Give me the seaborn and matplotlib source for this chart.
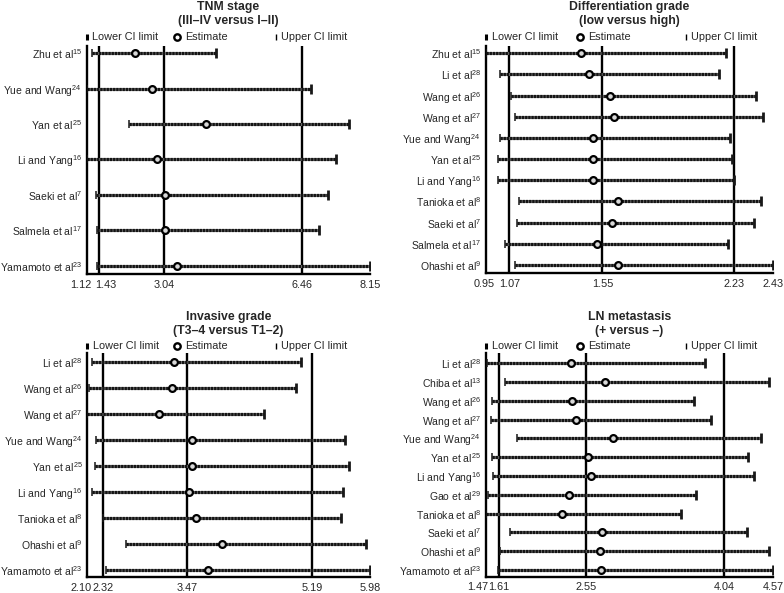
import numpy as np
import pandas as pd
import seaborn as sns
import matplotlib.pyplot as plt
import matplotlib.transforms as mtransforms

# ---- data ----
tnm_studies = ["Zhu et al$^{15}$", "Yue and Wang$^{24}$", "Yan et al$^{25}$", "Li and Yang$^{16}$",
               "Saeki et al$^{7}$", "Salmela et al$^{17}$", "Yamamoto et al$^{23}$"]
tnm_est = [2.31, 2.74, 4.08, 2.87, 3.06, 3.07, 3.35]
tnm_low = [1.24, 1.12, 2.17, 1.12, 1.34, 1.38, 1.38]
tnm_up = [4.32, 6.68, 7.64, 7.30, 7.11, 6.88, 8.15]
tnm_ticks = [1.12, 1.43, 3.04, 6.46, 8.15]

diff_studies = ["Zhu et al$^{15}$", "Li et al$^{28}$", "Wang et al$^{26}$", "Wang et al$^{27}$",
                "Yue and Wang$^{24}$", "Yan et al$^{25}$", "Li and Yang$^{16}$", "Tanioka et al$^{8}$",
                "Saeki et al$^{7}$", "Salmela et al$^{17}$", "Ohashi et al$^{9}$"]
diff_est = [1.44, 1.48, 1.59, 1.61, 1.50, 1.50, 1.50, 1.63, 1.60, 1.52, 1.63]
diff_low = [0.95, 1.02, 1.08, 1.10, 1.02, 1.01, 1.01, 1.12, 1.11, 1.05, 1.10]
diff_up = [2.19, 2.15, 2.34, 2.38, 2.21, 2.22, 2.23, 2.37, 2.33, 2.20, 2.43]
diff_ticks = [0.95, 1.07, 1.55, 2.23, 2.43]

inv_studies = ["Li et al$^{28}$", "Wang et al$^{26}$", "Wang et al$^{27}$", "Yue and Wang$^{24}$",
               "Yan et al$^{25}$", "Li and Yang$^{16}$", "Tanioka et al$^{8}$", "Ohashi et al$^{9}$",
               "Yamamoto et al$^{23}$"]
inv_est = [3.29, 3.26, 3.08, 3.54, 3.54, 3.50, 3.59, 3.95, 3.75]
inv_low = [2.16, 2.13, 2.10, 2.22, 2.21, 2.17, 2.31, 2.63, 2.35]
inv_up = [5.03, 4.97, 4.52, 5.64, 5.69, 5.61, 5.58, 5.92, 5.98]
inv_ticks = [2.10, 2.32, 3.47, 5.19, 5.98]

ln_studies = ["Li et al$^{28}$", "Chiba et al$^{13}$", "Wang et al$^{26}$", "Wang et al$^{27}$",
              "Yue and Wang$^{24}$", "Yan et al$^{25}$", "Li and Yang$^{16}$", "Gao et al$^{29}$",
              "Tanioka et al$^{8}$", "Saeki et al$^{7}$", "Ohashi et al$^{9}$", "Yamamoto et al$^{23}$"]
ln_est = [2.39, 2.75, 2.40, 2.44, 2.84, 2.57, 2.60, 2.37, 2.29, 2.72, 2.70, 2.71]
ln_low = [1.48, 1.67, 1.54, 1.52, 1.81, 1.54, 1.55, 1.49, 1.47, 1.73, 1.62, 1.60]
ln_up = [3.84, 4.53, 3.72, 3.90, 4.44, 4.30, 4.36, 3.74, 3.58, 4.29, 4.53, 4.57]
ln_ticks = [1.47, 1.61, 2.55, 4.04, 4.57]

titles = ["TNM stage\n(III\u2013IV versus I\u2013II)", "Differentiation grade\n(low versus high)",
          "Invasive grade\n(T3\u20134 versus T1\u20132)", "LN metastasis\n(+ versus \u2013)"]

sns.set_style("white")
plt.rcParams['font.family'] = ['Liberation Sans', 'DejaVu Sans']
plt.rcParams['mathtext.fontset'] = 'custom'
plt.rcParams['mathtext.rm'] = 'Liberation Sans'
plt.rcParams['mathtext.it'] = 'Liberation Sans:italic'
plt.rcParams['mathtext.bf'] = 'Liberation Sans:bold'

W, H = 784, 593
fig = plt.figure(figsize=(W / 100, H / 100), dpi=100)


def forest(box, rows, title_y, legend_y, leg_x, shifts, title, studies, est, low, up, ticks):
    left, right, top, bottom = box
    ax = fig.add_axes([left / W, 1 - bottom / H, (right - left) / W, (bottom - top) / H])
    n = len(studies)
    first, last = rows
    step = (last - first) / (n - 1)
    df = pd.DataFrame({"study": studies, "est": est, "low": low, "up": up, "row": np.arange(n)})

    for v in ticks[1:-1]:
        ax.axvline(v, color="black", lw=1.7, zorder=1)
    # hatched-looking CI bar: grey base with dense black dashes on top
    ax.hlines(df.row, df.low, df.up, color="#6a6a6a", lw=2.2, zorder=2)
    ax.hlines(df.row, df.low, df.up, color="#141414", lw=2.3,
              linestyles=(0, (0.7, 0.3)), zorder=2)
    ax.plot(df.low, df.row, ls="none", marker="|", ms=6, mew=1.1, color="#181818", zorder=3)
    ax.plot(df.up, df.row, ls="none", marker="|", ms=6.5, mew=2.0, color="#181818", zorder=3)
    sns.scatterplot(data=df, x="est", y="row", ax=ax, s=24, color="#d8d8d8",
                    edgecolor="black", linewidth=1.6, zorder=4, legend=False)

    ax.set_xlim(ticks[0], ticks[-1])
    ax.set_ylim((bottom - first) / step, (top - first) / step)
    ax.set_xticks(ticks)
    ax.set_xticklabels([f"{v:.2f}" for v in ticks])
    ax.set_yticks(df.row)
    ax.set_yticklabels(studies)
    ax.set_xlabel("")
    ax.set_ylabel("")
    for s in ["top", "right"]:
        ax.spines[s].set_visible(False)
    for s in ["left", "bottom"]:
        ax.spines[s].set_linewidth(1.7)
        ax.spines[s].set_color("black")
    ax.tick_params(axis="x", length=2, width=1.2, pad=2, labelsize=7.8, color="black")
    ax.tick_params(axis="y", length=0, pad=3.5, labelsize=7.5)

    # nudge the two crowded tick labels on the left apart
    for lab, dx in zip(ax.get_xticklabels()[:2], shifts):
        lab.set_transform(lab.get_transform() + mtransforms.ScaledTranslation(dx / 100, 0, fig.dpi_scale_trans))

    # legend row above the plot
    ly = 1 - (legend_y - top) / (bottom - top)
    xs = [left + d for d in leg_x]
    fx = [(x - left) / (right - left) for x in xs]
    kw = dict(transform=ax.transAxes, clip_on=False, ls="none", color="black")
    ax.plot(fx[0], ly, marker="|", ms=5, mew=2.2, **kw)
    ax.plot(fx[1], ly, marker="o", ms=4.6, mew=1.7, mfc="white", **kw)
    ax.plot(fx[2], ly, marker="|", ms=5, mew=1.0, **kw)
    labels = ["Lower CI limit", "Estimate", "Upper CI limit"]
    offs = [5.5, 8, 5]
    for x, lab, o in zip(xs, labels, offs):
        ax.text((x + o - left) / (right - left), ly, lab, transform=ax.transAxes,
                va="center", ha="left", fontsize=7.8)

    fig.text((left + right) / 2 / W, 1 - title_y / H, title, ha="center", va="center",
             fontsize=8.8, fontweight="bold", linespacing=1.25)
    return ax


forest((87, 370, 46, 274), (53.3, 265.7), 14, 37, (0, 89.7, 188.7), (-6, 6),
       titles[0], tnm_studies, tnm_est, tnm_low, tnm_up, tnm_ticks)
forest((486, 773, 46, 273), (53.3, 265), 14, 37, (0.3, 94.3, 200), (-2, 0),
       titles[1], diff_studies, diff_est, diff_low, diff_up, diff_ticks)
forest((87.3, 370, 352.5, 577), (362.3, 570.3), 324, 346, (0, 89.4, 188.4), (-6, 0),
       titles[2], inv_studies, inv_est, inv_low, inv_up, inv_ticks)
forest((486, 773, 352.5, 576.5), (363.3, 570), 324, 346, (0.3, 93.7, 200), (-8, 0),
       titles[3], ln_studies, ln_est, ln_low, ln_up, ln_ticks)

fig.savefig("out.png", dpi=100, facecolor="white")
